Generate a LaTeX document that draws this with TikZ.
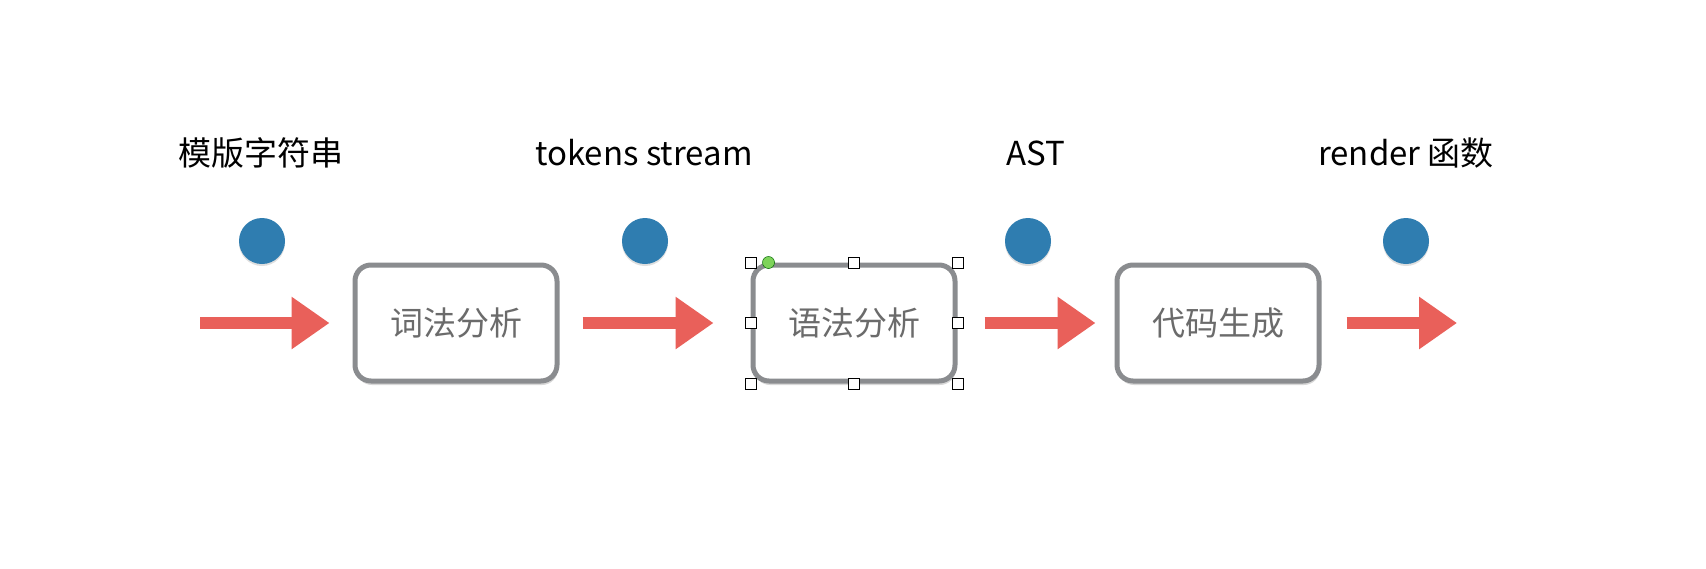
\documentclass[tikz,border=0pt]{standalone}
\usepackage{fontspec}
\setmainfont{Noto Sans CJK SC}
\usetikzlibrary{arrows.meta, shadows}
\definecolor{flowred}{HTML}{E9605A}
\definecolor{dotblue}{HTML}{2F7DB0}
\definecolor{boxgray}{HTML}{8A8C8F}
\definecolor{stagetext}{HTML}{6B6B6B}
\definecolor{handlegreen}{HTML}{7ED35A}
\tikzset{
	stagebox/.style={draw=boxgray, line width=5pt, fill=white, rounded corners=16pt,
		minimum width=202pt, minimum height=116pt, text=stagetext,
		font=\fontsize{33}{40}\selectfont,
		drop shadow={opacity=0.3, shadow xshift=1pt, shadow yshift=-4pt}},
	datadot/.style={circle, fill=dotblue, minimum size=46pt, inner sep=0pt,
		drop shadow={opacity=0.25, shadow xshift=0pt, shadow yshift=-2pt}},
	datalabel/.style={anchor=base, font=\fontsize{33}{40}\selectfont},
	flowarr/.style={-{Triangle[length=38pt, width=50pt]}, line width=12pt, draw=flowred},
	handle/.style={draw=black, fill=white, minimum size=11pt, inner sep=0pt, line width=1pt},
	greendot/.style={circle, draw=green!40!black, fill=handlegreen, minimum size=12pt,
		inner sep=0pt, line width=0.5pt}
}

\begin{document}
\begin{tikzpicture}[x=1pt, y=-1pt]
	\fill[white] (0,0) rectangle (1706,568);
	\useasboundingbox (0,0) rectangle (1706,568);

	% stages
	\node[stagebox] (lex) at (456,323) {词法分析};
	\node[stagebox] (parse) at (854,323) {语法分析};
	\node[stagebox] (gen) at (1218,323) {代码生成};

	% data between stages
	\node[datadot] (d1) at (262,241) {};
	\node[datadot] (d2) at (645,241) {};
	\node[datadot] (d3) at (1028,241) {};
	\node[datadot] (d4) at (1406,241) {};
	\node[datalabel] (l1) at (261,165) {模版字符串};
	\node[datalabel] (l2) at (644,165) {tokens stream};
	\node[datalabel] (l3) at (1036,165) {AST};
	\node[datalabel] (l4) at (1406,165) {render 函数};

	% flow
	\coordinate (src) at (200,323);
	\coordinate (dst) at (1457,323);
	\draw[flowarr, shorten >=23pt] (src) -- (lex.west);
	\draw[flowarr, shorten <=23pt, shorten >=37pt] (lex.east) -- (parse.west);
	\draw[flowarr, shorten <=27pt, shorten >=19pt] (parse.east) -- (gen.west);
	\draw[flowarr, shorten <=25pt] (gen.east) -- (dst);

	% selection handles
	\foreach \a in {north west, north, north east, west, east, south west, south, south east}
		\node[handle] at (parse.\a) {};
	\node[greendot] at ([xshift=18pt]parse.north west) {};
\end{tikzpicture}
\end{document}
